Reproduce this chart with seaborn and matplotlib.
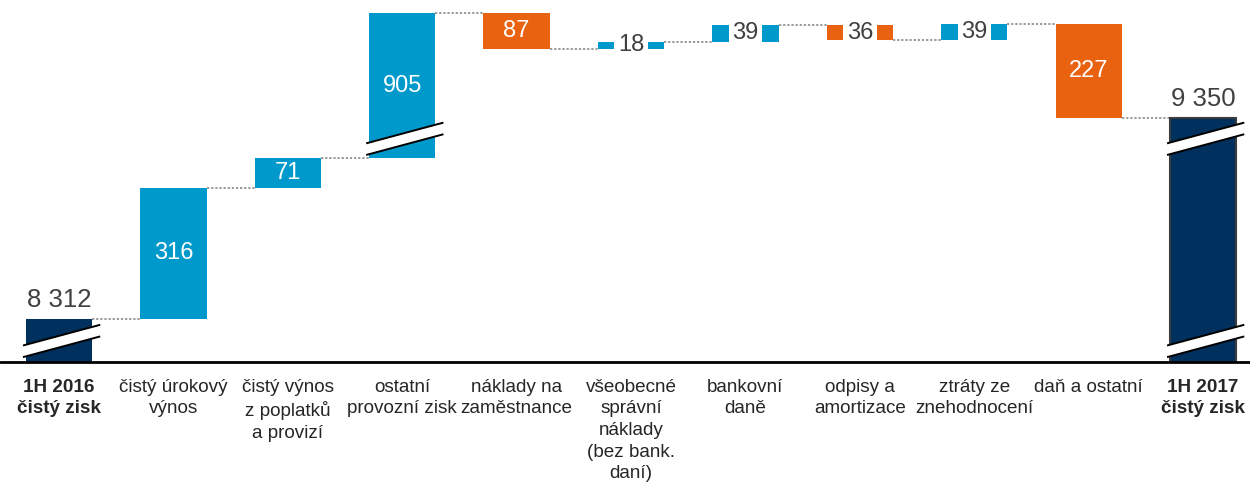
import numpy as np
import pandas as pd
import matplotlib.pyplot as plt
import seaborn as sns


categories = [
    "1H 2016\nčistý zisk",
    "čistý úrokový\nvýnos",
    "čistý výnos\nz poplatků\na provizí",
    "ostatní\nprovozní zisk",
    "náklady na\nzaměstnance",
    "všeobecné\nsprávní\nnáklady\n(bez bank.\ndaní)",
    "bankovní\ndaně",
    "odpisy a\namortizace",
    "ztráty ze\nznehodnocení",
    "daň a ostatní",
    "1H 2017\nčistý zisk",
]
start_value = 8312
changes = [316, 71, 905, -87, 18, 39, -36, 39, -227]
end_value = 9350

NAVY = "#00305E"
BLUE = "#0099CC"
ORANGE = "#E8620F"
TEXT = "#404040"

# broken value axis: start value is drawn at SHOWN_BASE, values above BREAK_AT are pulled down by CUT
SHOWN_BASE = 104
BREAK_AT = 9000
CUT = 555
BREAK_LEVELS = [49, 536]
BAR_W = 0.58


def disp(v):
    d = v - start_value + SHOWN_BASE
    if v > BREAK_AT:
        d -= CUT
    return d


levels = [start_value] + list(np.cumsum(changes) + start_value)

bottoms, heights, colors, edges, lws = [0], [disp(start_value)], [NAVY], [NAVY], [0]
for prev, new, ch in zip(levels[:-1], levels[1:], changes):
    lo, hi = sorted([disp(prev), disp(new)])
    bottoms.append(lo)
    heights.append(hi - lo)
    colors.append(BLUE if ch > 0 else ORANGE)
    edges.append(colors[-1])
    lws.append(0)
bottoms.append(0)
heights.append(disp(end_value))
colors.append(NAVY)
edges.append("#3C3C3C")
lws.append(1.5)

df = pd.DataFrame({"cat": categories, "bottom": bottoms, "height": heights})

sns.set_theme(style="white")
plt.rcParams["font.family"] = ["Liberation Sans", "DejaVu Sans"]

fig = plt.figure(figsize=(12.5, 4.84), dpi=100)
ax = fig.add_axes([0, 122 / 484, 1, 362 / 484])

sns.barplot(
    data=df, x="cat", y="height", bottom=df["bottom"].values,
    color=NAVY, facecolor=colors, edgecolor=edges, linewidth=lws,
    width=BAR_W, errorbar=None, ax=ax, zorder=2,
)

n = len(categories)

# connectors
tops = [disp(v) for v in levels]
for i in range(n - 1):
    y = tops[i]
    ax.plot([i + BAR_W / 2, i + 1 - BAR_W / 2], [y, y], color="#808080",
            lw=1.1, ls=(0, (1.5, 1.2)), zorder=1)

# break marks where a bar crosses a break level
slope, gap = 74, 28
for i in range(n):
    b, h = bottoms[i], heights[i]
    for yc in BREAK_LEVELS:
        if b < yc < b + h:
            xs = np.array([i - 0.315, i + 0.36])
            ylo = yc - gap / 2 + slope * (xs - i)
            yhi = yc + gap / 2 + slope * (xs - i)
            ax.fill([xs[0], xs[1], xs[1], xs[0]], [ylo[0], ylo[1], yhi[1], yhi[0]],
                    color="white", zorder=3, lw=0)
            ax.plot(xs, ylo, color="black", lw=1.4, zorder=4, solid_capstyle="butt")
            ax.plot(xs, yhi, color="black", lw=1.4, zorder=4, solid_capstyle="butt")

# value labels
for i, v in enumerate([start_value, end_value]):
    idx = 0 if i == 0 else n - 1
    ax.annotate(f"{v:,}".replace(",", " "), (idx, heights[idx]), xytext=(0, 5),
                textcoords="offset points", ha="center", va="bottom",
                fontsize=18.5, color=TEXT, zorder=5)

for k, ch in enumerate(changes):
    i = k + 1
    y = bottoms[i] + heights[i] / 2
    if abs(ch) < 50:
        ax.text(i, y, str(abs(ch)), ha="center", va="center", fontsize=17,
                color=TEXT, zorder=5,
                bbox=dict(facecolor="white", edgecolor="none", pad=2.5))
    else:
        ax.text(i, y, str(abs(ch)), ha="center", va="center", fontsize=17,
                color="white", zorder=5)

ax.axhline(0, color="black", lw=2, clip_on=False, zorder=6)

ax.set_xlim(-0.516, 10.41)
ax.set_ylim(0, 872)
ax.set_yticks([])
ax.set_xlabel("")
ax.set_ylabel("")
ax.set_xticks(range(n))
ax.set_xticklabels(categories, fontsize=13.6, color="#262626", linespacing=1.36)
ax.tick_params(axis="x", length=0, pad=12)
for lab in (ax.get_xticklabels()[0], ax.get_xticklabels()[-1]):
    lab.set_fontweight("bold")
sns.despine(ax=ax, left=True, bottom=True)

fig.savefig("out.png", dpi=100)
